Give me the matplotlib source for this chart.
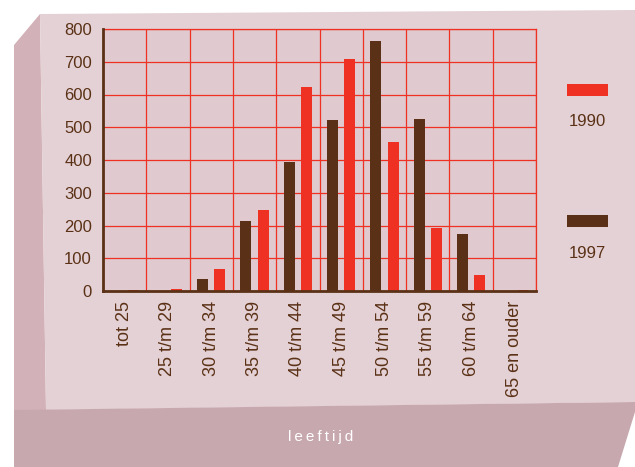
import numpy as np
import matplotlib.pyplot as plt
from matplotlib.patches import Polygon, Rectangle

plt.rcParams['font.family'] = ['Liberation Sans', 'DejaVu Sans']

groepen = ['tot 25', '25 t/m 29', '30 t/m 34', '35 t/m 39', '40 t/m 44',
           '45 t/m 49', '50 t/m 54', '55 t/m 59', '60 t/m 64', '65 en ouder']
jaar_1997 = [1, 1, 36, 213, 394, 522, 764, 525, 174, 1]
jaar_1990 = [2, 6, 66, 247, 623, 709, 455, 192, 48, 2]

bruin = '#5a3116'
rood = '#ef3123'
W, H = 635, 467

fig = plt.figure(figsize=(W / 100, H / 100), dpi=100)
fig.patch.set_facecolor('white')

def fp(pts):
    # pixel coords (from top-left) -> figure fraction
    return [(x / W, 1 - y / H) for x, y in pts]

# stone slab behind the chart
fig.patches.append(Polygon(fp([(14, 45), (40, 14), (46, 410), (14, 462)]),
                           closed=True, transform=fig.transFigure,
                           facecolor='#d2b2b8', edgecolor='none', zorder=-2))
fig.patches.append(Polygon(fp([(40, 14), (635, 10), (635, 402), (46, 410)]),
                           closed=True, transform=fig.transFigure,
                           facecolor='#e4d1d5', edgecolor='none', zorder=-2))
fig.patches.append(Polygon(fp([(14, 410), (635, 402), (635, 412), (618, 467), (14, 467)]),
                           closed=True, transform=fig.transFigure,
                           facecolor='#c8a8af', edgecolor='none', zorder=-2))

ax = fig.add_axes([103 / W, 1 - 291 / H, 433 / W, 262 / H])
ax.set_zorder(2)
ax.set_facecolor('#e0cacf')

x = np.arange(len(groepen))
ax.bar(x - 0.2, jaar_1997, width=0.25, color=bruin, zorder=3)
ax.bar(x + 0.2, jaar_1990, width=0.25, color=rood, zorder=3)

ax.set_xlim(-0.5, len(groepen) - 0.5)
ax.set_ylim(0, 800)
ax.set_yticks(range(0, 801, 100))
ax.set_xticks(x)
ax.set_xticklabels(groepen, rotation=90)
ax.set_xticks(np.arange(-0.5, len(groepen)), minor=True)
ax.grid(True, which='minor', axis='x', color=rood, lw=0.9, zorder=1)
ax.grid(True, which='major', axis='y', color=rood, lw=0.9, zorder=1)
ax.tick_params(axis='both', which='both', length=0, colors=bruin)
ax.tick_params(axis='y', pad=8, labelsize=12)
ax.tick_params(axis='x', pad=7, labelsize=13)

for s in ['top', 'right']:
    ax.spines[s].set_color(rood)
    ax.spines[s].set_linewidth(0.9)
for s in ['left', 'bottom']:
    ax.spines[s].set_color(bruin)
    ax.spines[s].set_linewidth(2)
    ax.spines[s].set_zorder(4)

# legend on the right
fig.patches.append(Rectangle((567 / W, 1 - 96 / H), 41 / W, 12 / H,
                             transform=fig.transFigure, facecolor=rood, zorder=2))
fig.text(587 / W, 1 - 122 / H, '1990', color=bruin, fontsize=12,
         ha='center', va='center')
fig.patches.append(Rectangle((567 / W, 1 - 227 / H), 41 / W, 12 / H,
                             transform=fig.transFigure, facecolor=bruin, zorder=2))
fig.text(587 / W, 1 - 254 / H, '1997', color=bruin, fontsize=12,
         ha='center', va='center')

fig.text(321 / W, 1 - 437 / H, 'l\u2009e\u2009e\u2009f\u2009t\u2009i\u2009j\u2009d',
         color='white', fontsize=11, ha='center', va='center')

fig.savefig('out.png', dpi=100)
